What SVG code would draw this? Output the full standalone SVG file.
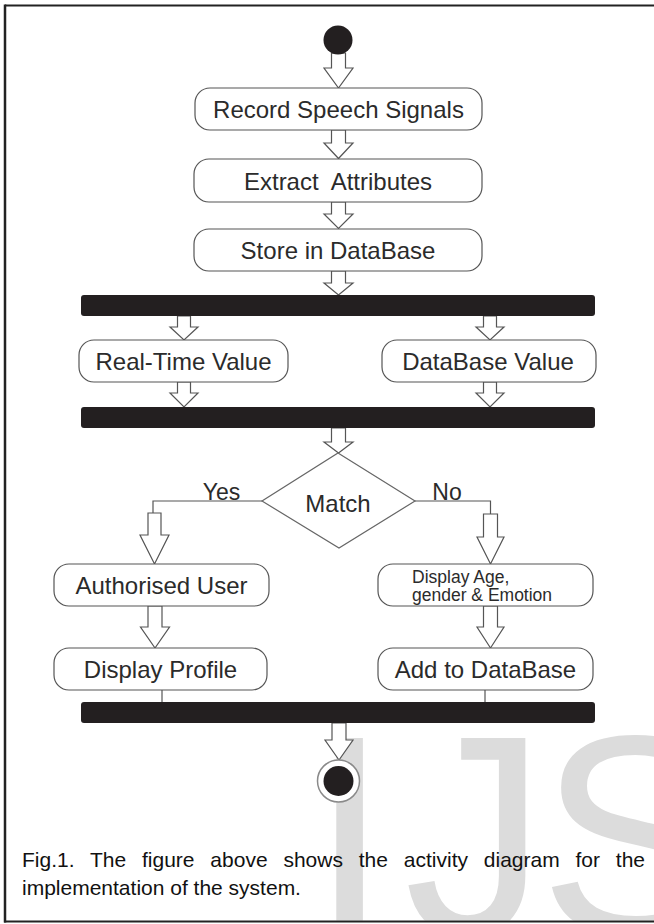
<svg xmlns="http://www.w3.org/2000/svg" width="654" height="924" viewBox="0 0 654 924">
  <style>
    .box { fill: #ffffff; stroke: #555555; stroke-width: 1.2; }
    .bar { fill: #231f20; }
    .arrow { fill: #ffffff; stroke: #555555; stroke-width: 1.2; stroke-linejoin: miter; }
    .line { fill: none; stroke: #555555; stroke-width: 1.2; }
    .lbl { font-family: "Liberation Sans", Arial, sans-serif; font-size: 24px; fill: #2b2b2b; text-anchor: middle; }
    .small { font-family: "Liberation Sans", Arial, sans-serif; font-size: 17.5px; fill: #2b2b2b; }
    .cap { font-family: "Liberation Sans", Arial, sans-serif; font-size: 21px; fill: #111111; }
    .wm { font-family: "Liberation Sans", Arial, sans-serif; font-size: 285px; fill: #dcdcdc; }
  </style>
  <defs>
    <clipPath id="frameClip">
      <rect x="6" y="6" width="648" height="914.5"/>
    </clipPath>
  </defs>
  <rect x="0" y="0" width="654" height="924" fill="#ffffff"/>

  <g id="watermark" clip-path="url(#frameClip)">
    <text class="wm" x="310 404 539 729 919" y="934">IJSER</text>
  </g>

  <g id="frame" fill="none" stroke="#222222">
    <line x1="5" y1="5.5" x2="654" y2="5.5" stroke-width="2"/>
    <line x1="5" y1="4.5" x2="5" y2="922.5" stroke-width="2.5"/>
    <line x1="4" y1="921.5" x2="654" y2="921.5" stroke-width="2"/>
  </g>

  <g id="connectors">
    <path class="arrow" d="M331.5,53 V68 H324 L338.5,88 L353,68 H345.5 V53 Z"/>
    <path class="arrow" d="M331.5,130 V143 H324 L338.5,158.5 L353,143 H345.5 V130 Z"/>
    <path class="arrow" d="M331.5,202 V214 H324 L338.5,228.5 L353,214 H345.5 V202 Z"/>
    <path class="arrow" d="M331.5,271 V283 H324 L338.5,295 L353,283 H345.5 V271 Z"/>
    <path class="arrow" d="M177.5,316 V327 H170 L184,340 L198,327 H190.5 V316 Z"/>
    <path class="arrow" d="M483.5,316 V327 H476 L490,340 L504,327 H496.5 V316 Z"/>
    <path class="arrow" d="M177.5,382 V393 H170 L184,407 L198,393 H190.5 V382 Z"/>
    <path class="arrow" d="M483.5,382 V393 H476 L490,407 L504,393 H496.5 V382 Z"/>
    <path class="arrow" d="M331.5,428 V442 H324 L338.5,453 L353,442 H345.5 V428 Z"/>
    <path class="line" d="M262,501 H153 V513"/>
    <path class="arrow" d="M148,513 V535 H140 L154.5,564 L169,535 H161 V513 Z"/>
    <path class="line" d="M415,501 H490.5 V514"/>
    <path class="arrow" d="M483.5,514 V537 H477 L490.5,564 L504,537 H497.5 V514 Z"/>
    <path class="arrow" d="M148,606 V627 H140.5 L155,648 L169.5,627 H162 V606 Z"/>
    <path class="arrow" d="M483.5,606 V627 H477 L490.5,648 L504,627 H497.5 V606 Z"/>
    <path class="line" d="M162,690 V702"/>
    <path class="line" d="M485,690 V702"/>
    <path class="arrow" d="M332,723 V740 H325 L339,760 L353,740 H346 V723 Z"/>
  </g>

  <g id="start">
    <circle cx="338" cy="40" r="14.5" fill="#231f20"/>
  </g>

  <g id="record">
    <rect class="box" x="195" y="88" width="287" height="42" rx="15"/>
    <text class="lbl" x="338.5" y="118">Record Speech Signals</text>
  </g>
  <g id="extract">
    <rect class="box" x="194" y="159" width="288" height="43" rx="15"/>
    <text class="lbl" x="338" y="189.5" xml:space="preserve">Extract  Attributes</text>
  </g>
  <g id="store">
    <rect class="box" x="194" y="229" width="288" height="42" rx="15"/>
    <text class="lbl" x="338" y="258.5">Store in DataBase</text>
  </g>

  <g id="fork1"><rect class="bar" x="81" y="295" width="514" height="21" rx="3"/></g>

  <g id="realtime">
    <rect class="box" x="79" y="340" width="209" height="42" rx="15"/>
    <text class="lbl" x="183.5" y="369.5">Real-Time Value</text>
  </g>
  <g id="dbvalue">
    <rect class="box" x="382" y="340" width="214" height="42" rx="15"/>
    <text class="lbl" x="488" y="369.5">DataBase Value</text>
  </g>

  <g id="join1"><rect class="bar" x="81" y="407" width="514" height="21" rx="3"/></g>

  <g id="match">
    <polygon points="338,453 415,501 339,548 262,501" fill="#ffffff" stroke="#666666" stroke-width="1.2"/>
    <text class="lbl" x="338" y="512">Match</text>
  </g>
  <text class="lbl" x="221.5" y="500" style="font-size:23px">Yes</text>
  <text class="lbl" x="447" y="500" style="font-size:23px">No</text>

  <g id="authorised">
    <rect class="box" x="54" y="564" width="215" height="42" rx="15"/>
    <text class="lbl" x="161.5" y="593.5">Authorised User</text>
  </g>
  <g id="displayage">
    <rect class="box" x="378" y="564" width="215" height="42" rx="15"/>
    <text class="small" x="412" y="583">Display Age,</text>
    <text class="small" x="412" y="600.5">gender &amp; Emotion</text>
  </g>

  <g id="profile">
    <rect class="box" x="54" y="648" width="213" height="42" rx="15"/>
    <text class="lbl" x="160.5" y="677.5">Display Profile</text>
  </g>
  <g id="adddb">
    <rect class="box" x="378" y="648" width="215" height="42" rx="15"/>
    <text class="lbl" x="485.5" y="677.5">Add to DataBase</text>
  </g>

  <g id="join2"><rect class="bar" x="81" y="702" width="514" height="21" rx="3"/></g>

  <g id="end">
    <circle cx="338.5" cy="781" r="21" fill="#ffffff" stroke="#8a8a8a" stroke-width="1.5"/>
    <circle cx="338.5" cy="781" r="15" fill="#231f20"/>
  </g>

  <g id="caption">
    <text class="cap" x="22" y="867" word-spacing="10">Fig.1. The figure above shows the activity diagram for the</text>
    <text class="cap" x="22" y="895">implementation of the system.</text>
  </g>
</svg>
